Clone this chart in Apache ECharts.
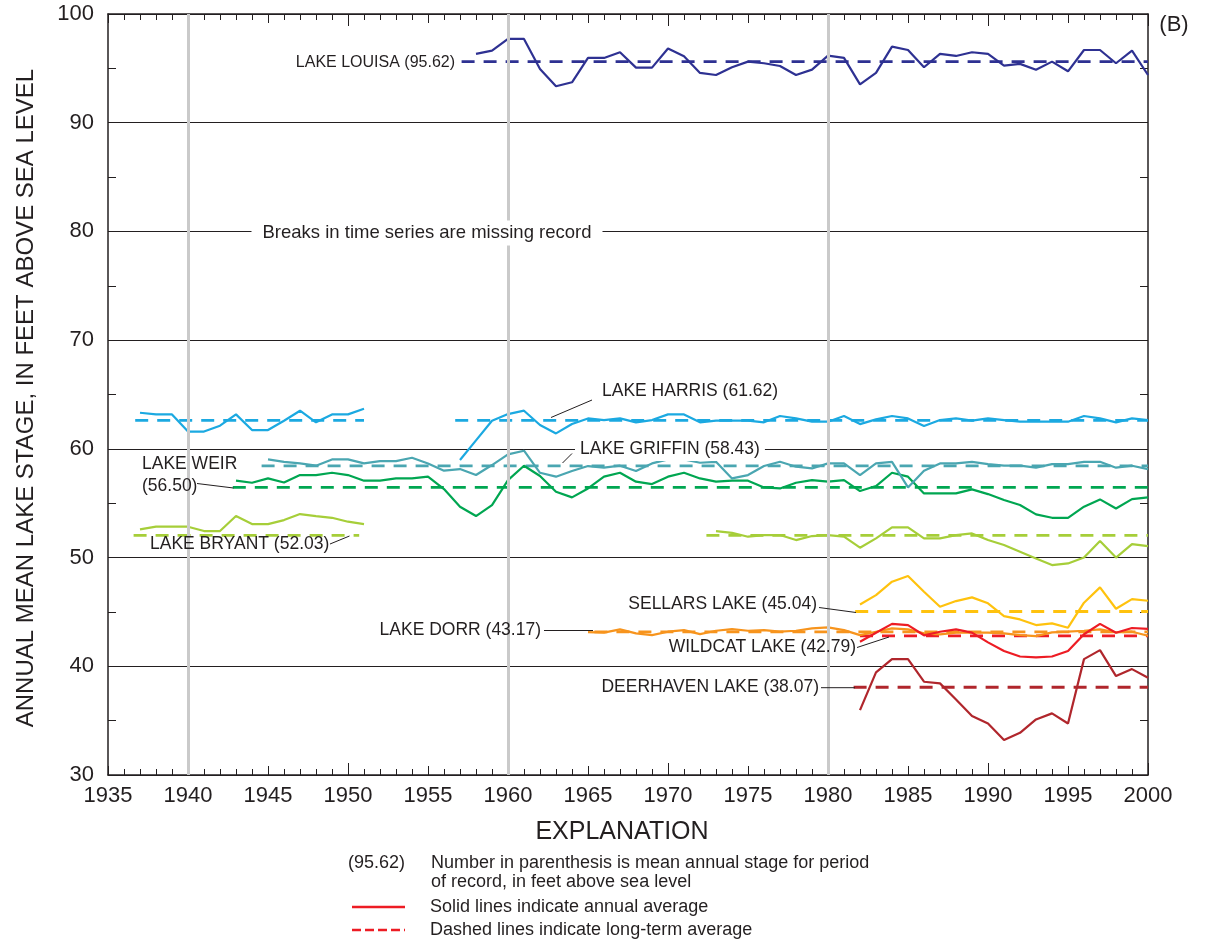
<!DOCTYPE html>
<html><head><meta charset="utf-8">
<script src="https://cdn.jsdelivr.net/npm/echarts@6/dist/echarts.min.js"></script>
<style>html,body{margin:0;padding:0;background:#fff}#c{width:1205px;height:944px}</style>
</head><body><div id="c"></div>
<script>
// ---------------- DATA ----------------
const xTicks = [1935,1940,1945,1950,1955,1960,1965,1970,1975,1980,1985,1990,1995,2000];
const decadeTicks = [1940,1950,1960,1970,1980,1990,2000];
const yTicks = [30,40,50,60,70,80,90,100];
const breakYears = [1940,1960,1980];

const louisaStart = 1958;
const louisaValues = [96.33,96.63,97.71,97.71,94.95,93.35,93.72,95.96,95.96,96.48,95.07,95.07,96.82,96.11,94.58,94.39,95.10,95.62,95.47,95.22,94.39,94.88,96.17,95.96,93.53,94.58,97.00,96.69,95.10,96.33,96.14,96.48,96.33,95.25,95.41,94.88,95.62,94.73,96.69,96.69,95.47,96.63,94.39];

const harrisStart = 1937;
const harrisValues = [63.32,63.17,63.17,61.59,61.59,62.13,63.17,61.73,61.73,62.59,63.51,62.44,63.17,63.17,63.69,
  null,null,null,null,null,
  58.97,60.78,62.59,63.20,63.51,62.19,61.42,62.28,62.80,62.65,62.80,62.44,62.65,63.17,63.17,62.44,62.59,62.59,62.59,62.44,63.02,62.80,
  62.50,62.50,63.02,62.28,62.71,63.02,62.80,62.10,62.65,62.80,62.59,62.80,62.65,62.50,62.50,62.50,62.50,63.02,62.80,62.44,62.80,62.65];

const griffinStart = 1945;
const griffinValues = [59.03,58.81,58.66,58.45,59.03,59.03,58.66,58.87,58.87,59.18,58.66,57.99,58.14,57.59,58.51,59.49,59.83,57.80,57.44,57.96,58.42,58.27,58.45,57.96,58.66,59.03,59.03,58.72,58.81,57.28,57.59,58.42,58.81,58.36,58.20,58.66,58.66,57.59,58.66,58.81,56.45,57.99,58.66,58.66,58.81,58.60,58.45,58.45,58.27,58.60,58.60,58.81,58.81,58.27,58.45,58.14];

const weirStart = 1943;
const weirValues = [57.07,56.88,57.28,56.91,57.59,57.59,57.80,57.59,57.07,57.07,57.28,57.28,57.44,56.30,54.68,53.82,54.83,57.13,58.45,57.50,56.06,55.54,56.36,57.44,57.80,56.98,56.76,57.44,57.80,57.28,56.98,57.07,57.07,56.45,56.36,56.88,57.13,56.98,57.13,56.12,56.58,57.80,57.44,55.90,55.90,55.90,56.27,55.84,55.29,54.83,53.97,53.66,53.66,54.68,55.35,54.52,55.38,55.54];

const bryantStart = 1937;
const bryantValues = [52.59,52.84,52.84,52.84,52.44,52.44,53.82,53.08,53.08,53.45,54.00,53.82,53.66,53.30,53.08,
  null,null,null,null,null,null,null,null,null,null,null,null,null,null,null,null,null,null,null,null,null,
  52.44,52.28,51.92,52.07,52.07,51.61,51.98,52.07,51.92,50.91,51.77,52.78,52.78,51.77,51.77,52.07,52.22,51.61,51.15,50.54,49.92,49.31,49.46,50.00,51.52,50.00,51.24,51.06];

const sellarsStart = 1982;
const sellarsValues = [45.69,46.55,47.78,48.30,46.85,45.47,46.00,46.34,45.79,44.62,44.31,43.79,43.95,43.55,45.85,47.26,45.29,46.18,46.03];

const dorrStart = 1965;
const dorrValues = [43.15,43.09,43.39,43.03,42.87,43.18,43.33,42.96,43.27,43.42,43.27,43.33,43.18,43.27,43.49,43.58,43.33,42.87,43.18,43.49,43.39,43.03,42.93,43.09,43.09,43.09,43.03,42.87,42.78,43.12,43.18,43.27,43.39,43.12,43.18,42.81];

const wildcatStart = 1982;
const wildcatValues = [42.26,43.09,43.90,43.78,42.85,43.18,43.39,43.10,42.20,41.40,40.90,40.82,40.90,41.40,42.95,43.90,43.09,43.52,43.45];

const deerhavenStart = 1982;
const deerhavenValues = [35.97,39.44,40.66,40.66,38.58,38.43,36.95,35.42,34.74,33.21,33.88,35.11,35.67,34.74,40.66,41.49,39.10,39.74,38.94];

// long-term averages: level as drawn, and the year spans of the dashed lines
const louisaMean = 95.62;   const louisaMeanSpans = [[1957.1,2000]];
const harrisMean = 62.62;   const harrisMeanSpans = [[1936.7,1951],[1956.7,2000]];
const griffinMean = 58.43;  const griffinMeanSpans = [[1944.6,2000]];
const weirMean = 56.46;     const weirMeanSpans = [[1942.8,2000]];
const bryantMean = 52.05;   const bryantMeanSpans = [[1936.6,1950.7],[1972.4,2000]];
const sellarsMean = 45.04;  const sellarsMeanSpans = [[1981.7,2000]];
const dorrMean = 43.17;     const dorrMeanSpans = [[1965.4,2000]];
const wildcatMean = 42.79;  const wildcatMeanSpans = [[1982,2000]];
const deerhavenMean = 38.07;const deerhavenMeanSpans = [[1981.6,2000]];

// ---------------- STYLE ----------------
const FONT = '"Liberation Sans", Arial, Helvetica, sans-serif';
const INK = '#231F20';
const lakes = [
  {start: louisaStart, values: louisaValues, mean: louisaMean, spans: louisaMeanSpans, color: '#2E3192'},
  {start: harrisStart, values: harrisValues, mean: harrisMean, spans: harrisMeanSpans, color: '#1BA9E1'},
  {start: bryantStart, values: bryantValues, mean: bryantMean, spans: bryantMeanSpans, color: '#A6CE39'},
  {start: weirStart, values: weirValues, mean: weirMean, spans: weirMeanSpans, color: '#00A651'},
  {start: griffinStart, values: griffinValues, mean: griffinMean, spans: griffinMeanSpans, color: '#4AA6B1'},
  {start: sellarsStart, values: sellarsValues, mean: sellarsMean, spans: sellarsMeanSpans, color: '#FFC20E'},
  {start: dorrStart, values: dorrValues, mean: dorrMean, spans: dorrMeanSpans, color: '#F7941D'},
  {start: wildcatStart, values: wildcatValues, mean: wildcatMean, spans: wildcatMeanSpans, color: '#ED1C24'},
  {start: deerhavenStart, values: deerhavenValues, mean: deerhavenMean, spans: deerhavenMeanSpans, color: '#B0262C'}
];

const series = [];
series.push({
  type: 'line', data: [], xAxisIndex: 0, yAxisIndex: 0, silent: true, z: 1,
  markLine: {
    silent: true, symbol: 'none', label: {show: false},
    lineStyle: {color: '#CACACA', width: 3, type: 'solid'},
    data: breakYears.map(y => ({xAxis: y}))
  }
});
lakes.forEach(l => {
  const meanData = [];
  l.spans.forEach((s, i) => {
    if (i > 0) meanData.push([(s[0] + l.spans[i-1][1]) / 2, null]);
    meanData.push([s[0], l.mean], [s[1], l.mean]);
  });
  series.push({
    type: 'line', data: meanData, symbol: 'none', connectNulls: false, silent: true, z: 3,
    lineStyle: {color: l.color, width: 2.8, type: [13, 9]}
  });
});
lakes.forEach(l => {
  series.push({
    type: 'line', data: l.values.map((v, i) => [l.start + i, v]), symbol: 'none',
    connectNulls: false, silent: true, z: 4,
    lineStyle: {color: l.color, width: 2.2}
  });
});

const plain = v => String(v);
const axisBase = {type: 'value', min: 1935, max: 2000, splitLine: {show: false}};
const option = {
  animation: false,
  backgroundColor: '#fff',
  grid: {left: 108, right: 57, top: 14, bottom: 169, containLabel: false},
  xAxis: [
    Object.assign({}, axisBase, {
      position: 'bottom', interval: 5,
      axisLine: {show: true, lineStyle: {color: INK, width: 1.5}},
      axisTick: {show: true, inside: true, length: 9, lineStyle: {color: INK, width: 1}},
      minorTick: {show: true, splitNumber: 5, length: 6, lineStyle: {color: INK, width: 1}},
      axisLabel: {show: true, fontSize: 22, color: INK, fontFamily: FONT, margin: 10,
        customValues: xTicks, formatter: plain}
    }),
    Object.assign({}, axisBase, {
      position: 'bottom',
      axisLine: {show: false},
      axisTick: {show: true, inside: true, length: 12, customValues: decadeTicks, lineStyle: {color: INK, width: 1}},
      axisLabel: {show: false}
    }),
    Object.assign({}, axisBase, {
      position: 'top', interval: 5,
      axisLine: {show: true, lineStyle: {color: INK, width: 1.5}},
      axisTick: {show: true, inside: true, length: 9, lineStyle: {color: INK, width: 1}},
      minorTick: {show: true, splitNumber: 5, length: 6, lineStyle: {color: INK, width: 1}},
      axisLabel: {show: false}
    }),
    Object.assign({}, axisBase, {
      position: 'top',
      axisLine: {show: false},
      axisTick: {show: true, inside: true, length: 12, customValues: decadeTicks, lineStyle: {color: INK, width: 1}},
      axisLabel: {show: false}
    })
  ],
  yAxis: [
    {
      type: 'value', min: 30, max: 100, interval: 10, position: 'left',
      axisLine: {show: true, lineStyle: {color: INK, width: 1.5}},
      axisTick: {show: true, inside: true, length: 8, lineStyle: {color: INK}},
      minorTick: {show: true, splitNumber: 2, length: 8, lineStyle: {color: INK, width: 1}},
      splitLine: {show: true, lineStyle: {color: INK, width: 1}},
      axisLabel: {show: true, fontSize: 22, color: INK, fontFamily: FONT, margin: 14, customValues: yTicks, formatter: plain}
    },
    {
      type: 'value', min: 30, max: 100, interval: 10, position: 'right',
      axisLine: {show: true, lineStyle: {color: INK, width: 1.5}},
      axisTick: {show: true, inside: true, length: 8, lineStyle: {color: INK}},
      minorTick: {show: true, splitNumber: 2, length: 8, lineStyle: {color: INK, width: 1}},
      splitLine: {show: false},
      axisLabel: {show: false}
    }
  ],
  series: series
};

// ---------------- ANNOTATIONS ----------------
function txt(text, x, y, size, align, extra, rot) {
  return {type: 'text', z: 100, x: x, y: y, rotation: rot || 0, style: Object.assign({
    text: text, x: 0, y: 0, font: size + 'px ' + FONT, fill: INK,
    textAlign: align || 'left', textVerticalAlign: 'middle'}, extra || {})};
}
function seg(x1, y1, x2, y2, color, width, dash) {
  return {type: 'line', z: 100, shape: {x1: x1, y1: y1, x2: x2, y2: y2},
    style: {stroke: color || INK, lineWidth: width || 1, lineDash: dash || null}};
}
const LBL = 17.5;
option.graphic = [
  txt('ANNUAL MEAN LAKE STAGE, IN FEET ABOVE SEA LEVEL', 26, 398, 24, 'center', null, Math.PI / 2),
  txt('(B)', 1174, 25, 22, 'center'),
  txt('LAKE LOUISA (95.62)', 455, 63, 16, 'right'),
  txt('Breaks in time series are missing record', 427, 233, 18.5, 'center', {backgroundColor: '#fff', padding: [3, 11]}),
  txt('LAKE HARRIS (61.62)', 602, 391, LBL, 'left'),
  seg(592, 400, 551, 417.5),
  txt('LAKE GRIFFIN (58.43)', 575, 449, LBL, 'left', {backgroundColor: '#fff', padding: [3, 5]}),
  seg(572, 453.5, 562.5, 463),
  txt('LAKE WEIR', 142, 464, LBL, 'left'),
  txt('(56.50)', 142, 486, LBL, 'left'),
  seg(197, 483.5, 233.5, 488),
  txt('LAKE BRYANT (52.03)', 150, 544, LBL, 'left'),
  seg(330, 544, 349.5, 536),
  txt('SELLARS LAKE (45.04)', 817, 604, LBL, 'right'),
  seg(819, 607.5, 856, 612.5),
  txt('LAKE DORR (43.17)', 541, 630.5, LBL, 'right'),
  seg(544, 630.5, 593, 630.5),
  txt('WILDCAT LAKE (42.79)', 856, 647, LBL, 'right'),
  seg(857, 647.5, 889, 637),
  txt('DEERHAVEN LAKE (38.07)', 819, 687.5, LBL, 'right'),
  seg(821, 687.7, 855, 687.7),
  txt('EXPLANATION', 622, 832, 25, 'center'),
  txt('(95.62)', 348, 863, 18, 'left'),
  txt('Number in parenthesis is mean annual stage for period', 431, 863, 18, 'left'),
  txt('of record, in feet above sea level', 431, 882, 18, 'left'),
  seg(352, 907, 405, 907, '#ED1C24', 2.5),
  txt('Solid lines indicate annual average', 430, 907, 18, 'left'),
  seg(352, 930, 405, 930, '#ED1C24', 2.5, [9, 4]),
  txt('Dashed lines indicate long-term average', 430, 930, 18, 'left')
];

const chart = echarts.init(document.getElementById('c'), null, {renderer: 'canvas'});
chart.setOption(option);
</script>
</body></html>
